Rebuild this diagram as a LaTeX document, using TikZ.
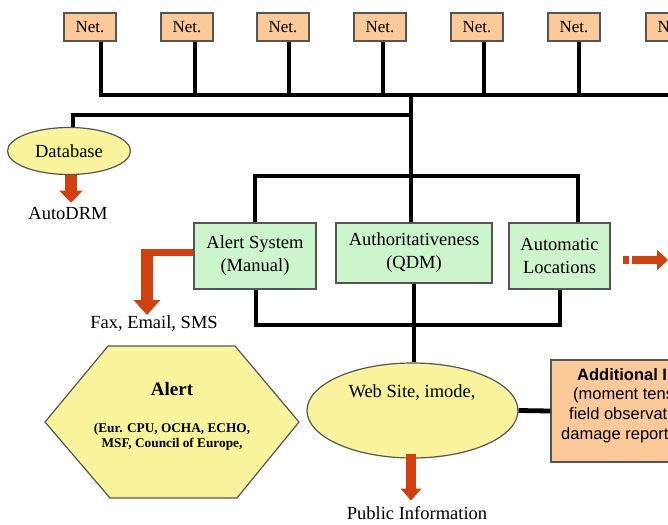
\documentclass[tikz,border=0pt]{standalone}
\usepackage{fontspec}
\setmainfont{Liberation Serif}
\newfontfamily\sansf{Liberation Sans}
\usetikzlibrary{arrows.meta,shapes.geometric}
\definecolor{peach}{HTML}{FCC998}
\definecolor{lgreen}{HTML}{CCF5CC}
\definecolor{lyellow}{HTML}{FAF59C}
\definecolor{arrred}{HTML}{D2400F}
\definecolor{framec}{HTML}{555555}
\begin{document}
\begin{tikzpicture}[x=1pt,y=-1pt,
  netbox/.style={draw=framec, line width=1.2pt, fill=peach, minimum width=52pt, minimum height=28pt, inner sep=0pt, font=\fontsize{17}{20}\selectfont},
  gbox/.style={draw=framec, line width=1.2pt, fill=lgreen, inner sep=0pt, align=center, font=\fontsize{18.5}{23}\selectfont},
  ell/.style={ellipse, draw=framec, line width=1.2pt, fill=lyellow, inner sep=0pt},
  conn/.style={line width=4.8pt, black},
  lbl/.style={font=\fontsize{18.5}{22}\selectfont, inner sep=0pt},
  addtxt/.style={anchor=west, inner sep=0pt, font=\sansf\fontsize{16.5}{19}\selectfont},
  hextxt/.style={inner sep=0pt, font=\bfseries\fontsize{13.3}{15}\selectfont},
]
\useasboundingbox (0,0) rectangle (668,524);
\clip (0,0) rectangle (668,524);
\fill[white] (0,0) rectangle (668,524);

% Net boxes
\node[netbox] (n1) at (90,27) {Net.};
\node[netbox] (n2) at (187,27) {Net.};
\node[netbox] (n3) at (283,27) {Net.};
\node[netbox] (n4) at (380,27) {Net.};
\node[netbox] (n5) at (477,27) {Net.};
\node[netbox] (n6) at (574,27) {Net.};
\node[netbox] (n7) at (672,27) {Net.};

% ellipses and boxes
\node[ell, minimum width=123pt, minimum height=47pt, font=\fontsize{18.5}{22}\selectfont] (db) at (69,151) {Database};
\node[gbox, minimum width=122pt, minimum height=66pt] (alert) at (255,256) {Alert System\\(Manual)};
\node[gbox, minimum width=156pt, minimum height=60pt] (auth) at (414,253) {Authoritativeness\\(QDM)};
\node[gbox, minimum width=101pt, minimum height=66pt] (auto) at (559.5,256) {Automatic\\Locations};
\node[ell, minimum width=211pt, minimum height=95pt] (web) at (412.5,410.5) {};
\node[lbl] (webt) at (412,392) {Web Site, imode,};
\node[draw=framec, line width=1.2pt, fill=peach, minimum width=220pt, minimum height=102pt, inner sep=0pt] (add) at (661,411) {};
\node[addtxt, font=\sansf\bfseries\fontsize{16.5}{19}\selectfont] (a1) at (577,375) {Additional Information};
\node[addtxt] (a2) at (573,395) {(moment tensor,};
\node[addtxt] (a3) at (569,415) {field observations,};
\node[addtxt] (a4) at (561,435) {damage reports)};

% connectors
\coordinate (busR) at (668,95);
\draw[conn] ([xshift=11pt]n1.south) |- (busR);
\draw[conn] ([xshift=8pt]n2.south) -- ++(0,54);
\draw[conn] ([xshift=6pt]n3.south) -- ++(0,54);
\draw[conn] ([xshift=3pt]n4.south) -- ++(0,54);
\draw[conn] ([xshift=7pt]n5.south) -- ++(0,54);
\draw[conn] ([xshift=5pt]n6.south) -- ++(0,54);
\coordinate (tj) at (411,95);
\draw[conn] (tj) -- (tj |- auth.north);
\coordinate (dbj) at (411,115);
\draw[conn] (dbj) -| ([xshift=4pt]db.north);
\coordinate (gr) at (578,176);
\draw[conn] (alert.north) |- (gr) -- (gr |- auto.north);
\coordinate (br) at (560,325);
\draw[conn] ([xshift=1pt]alert.south) |- (br) -- (br |- auto.south);
\draw[conn] (auth.south) -- (auth.south |- web.north);
\draw[conn] (web.east) -- (add.west);

% red arrows
\draw[arrred, line width=12pt, -{Triangle[width=23pt,length=12pt]}] ([xshift=2pt]db.south) -- ++(0,27.5);
\node[lbl] (adrm) at (68,213) {AutoDRM};
\draw[arrred, line width=10pt, -{Triangle[width=20pt,length=12pt]}] ([xshift=-1.5pt,yshift=5pt]web.south) -- ++(0,47);
\node[lbl] (pub) at (417,513) {Public Information};
\coordinate (fxc) at (147,252);
\draw[arrred, line width=7pt] ([yshift=4pt]alert.west) -- ([xshift=-6pt]fxc);
\draw[arrred, line width=12pt, -{Triangle[width=26pt,length=15pt]}] ([yshift=3.5pt]fxc) -- ++(0,66.5);
\node[lbl] (fax) at (154,324) {Fax, Email, SMS};
\coordinate (ra) at (623,260);
\fill[arrred] ([yshift=4pt]ra) rectangle ++(6,8);
\draw[arrred, line width=8pt, -{Triangle[width=20pt,length=11pt]}] ([xshift=9pt]ra) -- ++(36,0);

% hexagon
\draw[draw=framec, line width=1.2pt, fill=lyellow] (45,422) -- (108,346) -- (235,346) -- (299,422) -- (237,498) -- (110,498) -- cycle;
\node[inner sep=0pt, font=\bfseries\fontsize{19}{22}\selectfont] (hx) at (172,389) {Alert};
\node[hextxt] (hx1) at (172,429) {(Eur. CPU, OCHA, ECHO,};
\node[hextxt] (hx2) at (172,444) {MSF, Council of Europe,};
\end{tikzpicture}
\end{document}
